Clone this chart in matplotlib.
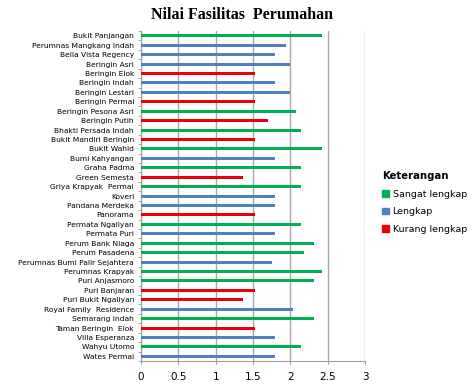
import matplotlib
matplotlib.use("Agg")

import matplotlib.pyplot as plt
from matplotlib.patches import Patch

# ---------------------------------------------------------------------------
# Data
# ---------------------------------------------------------------------------

perumahan = [
    "Bukit Panjangan", "Perumnas Mangkang Indah", "Bella Vista Regency",
    "Beringin Asri", "Beringin Elok", "Beringin Indah", "Beringin Lestari",
    "Beringin Permai", "Beringin Pesona Asri", "Beringin Putih",
    "Bhakti Persada Indah", "Bukit Mandiri Beringin", "Bukit Wahid",
    "Bumi Kahyangan", "Graha Padma", "Green Semesta", "Griya Krapyak  Permai",
    "Koveri", "Pandana Merdeka", "Panorama", "Permata Ngaliyan", "Permata Puri",
    "Perum Bank Niaga", "Perum Pasadena", "Perumnas Bumi Palir Sejahtera",
    "Perumnas Krapyak", "Puri Anjasmoro", "Puri Banjaran", "Puri Bukit Ngaliyan",
    "Royal Family  Residence", "Semarang Indah", "Taman Beringin  Elok",
    "Villa Esperanza", "Wahyu Utomo", "Wates Permai",
]

nilai = [
    2.42, 1.94, 1.80, 2.00, 1.52, 1.80, 2.00, 1.52, 2.08, 1.70,
    2.14, 1.52, 2.42, 1.80, 2.14, 1.37, 2.14, 1.80, 1.80, 1.52,
    2.14, 1.80, 2.32, 2.18, 1.76, 2.42, 2.32, 1.52, 1.37, 2.04,
    2.32, 1.52, 1.80, 2.14, 1.80,
]

# S = sangat lengkap, L = lengkap, K = kurang lengkap
kategori = [
    "S", "L", "L", "L", "K", "L", "L", "K", "S", "K",
    "S", "K", "S", "L", "S", "K", "S", "L", "L", "K",
    "S", "L", "S", "S", "L", "S", "S", "K", "K", "L",
    "S", "K", "L", "S", "L",
]

legend_labels = ["Sangat lengkap", "Lengkap", "Kurang lengkap"]
WARNA = {"S": "#00b050", "L": "#4f81bd", "K": "#e8000b"}

# ---------------------------------------------------------------------------
# Plot
# ---------------------------------------------------------------------------

fig = plt.figure(figsize=(4.73, 3.85), dpi=100)
ax = fig.add_axes([0.298, 0.0623, 0.474, 0.857])

y = list(range(len(perumahan)))
ax.barh(y, nilai, height=0.32, color=[WARNA[k] for k in kategori], zorder=3)

ax.set_ylim(len(perumahan) - 0.5, -0.5)
ax.set_xlim(0, 3)
ax.set_xticks([0, 0.5, 1, 1.5, 2, 2.5, 3])
ax.set_xticklabels(["0", "0.5", "1", "1.5", "2", "2.5", "3"])
ax.set_yticks(y)
ax.set_yticklabels(perumahan, fontsize=5.4)
ax.set_yticks([i + 0.5 for i in range(-1, len(perumahan))], minor=True)

ax.tick_params(axis="y", which="major", length=0, pad=5)
ax.tick_params(axis="y", which="minor", length=2, color="#999999")
ax.tick_params(axis="x", length=2, color="#999999", pad=6, labelsize=7.5)

ax.grid(axis="x", color="#a8a8a8", linewidth=1, zorder=0)
for side in ["top", "right"]:
    ax.spines[side].set_visible(False)
for side in ["left", "bottom"]:
    ax.spines[side].set_color("#a0a0a0")
    ax.spines[side].set_linewidth(0.8)

fig.text(0.512, 0.962, "Nilai Fasilitas  Perumahan", ha="center", va="center",
         fontsize=11.5, fontweight="bold", family="Liberation Serif")

handles = [Patch(color=WARNA[k]) for k in ["S", "L", "K"]]
leg = fig.legend(handles, legend_labels, title="Keterangan",
                 loc="upper left", bbox_to_anchor=(0.800, 0.565),
                 frameon=False, fontsize=6.8, title_fontsize=7.3,
                 handlelength=0.7, handleheight=0.7, handletextpad=0.4,
                 labelspacing=0.9, borderaxespad=0)
leg.get_title().set_fontweight("bold")
leg._legend_box.align = "left"

fig.savefig("out.png", dpi=100)
